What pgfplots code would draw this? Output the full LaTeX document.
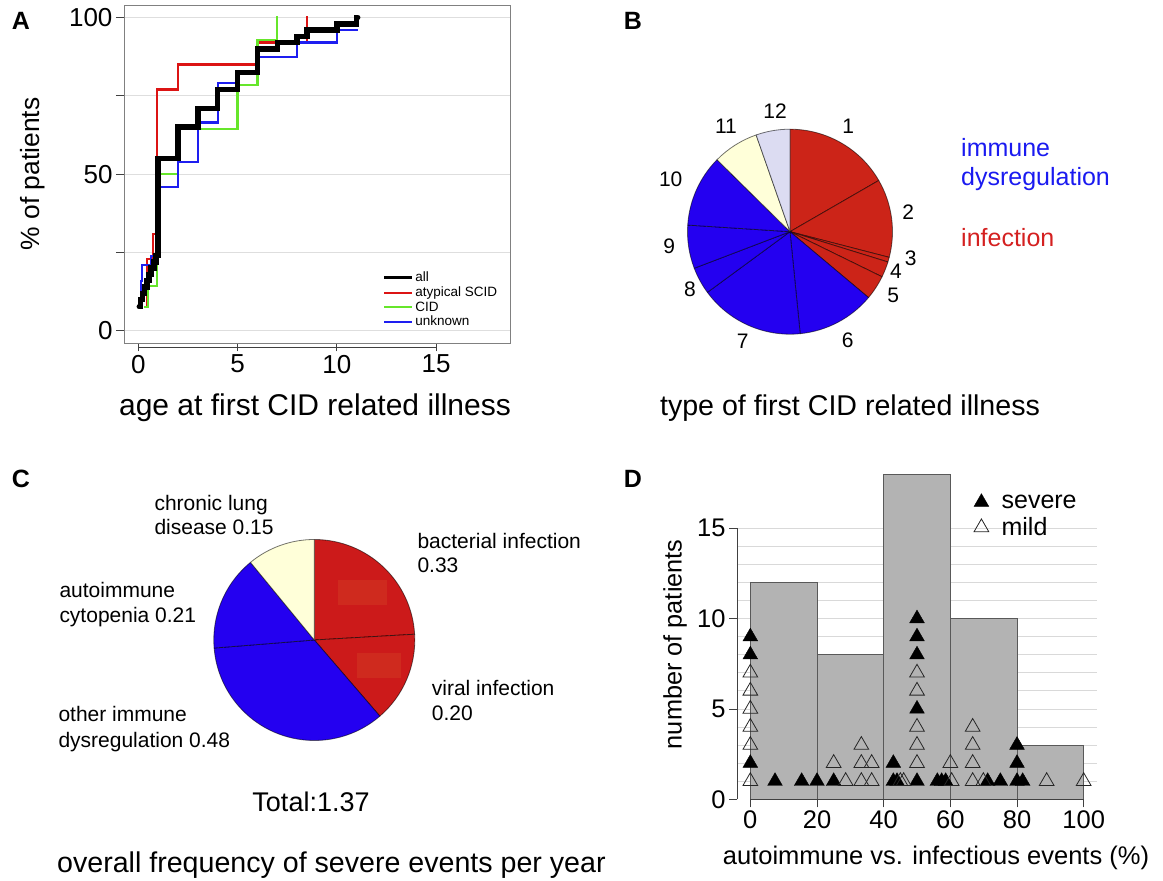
\documentclass[border=0pt]{standalone}
\usepackage{fontspec}
\setmainfont{Liberation Sans}
\usepackage{pgfplots}
\pgfplotsset{compat=1.18}
\newcommand{\fs}[1]{\fontsize{#1}{#1}\selectfont}
\definecolor{Ared}{HTML}{DC1414}
\definecolor{Agreen}{HTML}{66E62A}
\definecolor{Ablue}{HTML}{1E1EF0}
\definecolor{pred}{HTML}{CC2418}
\definecolor{predC}{HTML}{CC1A1A}
\definecolor{pghost}{HTML}{CF2A1E}
\definecolor{pblue}{HTML}{2400F0}
\definecolor{pcream}{HTML}{FFFFD9}
\definecolor{plav}{HTML}{DCDCF2}
\definecolor{barg}{HTML}{B3B3B3}
\definecolor{txtblue}{HTML}{1A1AF0}
\definecolor{txtred}{HTML}{D42020}
% start, end (degrees clockwise from 12 o'clock), radius (pt), fill colour
\newcommand{\pieslice}[4]{%
  \filldraw[fill=#4, draw=black, draw opacity=0.55, line width=0.8pt, line join=round]
  (axis cs:0,0) -- ++({90-(#1)}:#3pt) arc[start angle={90-(#1)}, end angle={90-(#2)}, radius=#3pt] -- cycle;}
\begin{document}
\begin{tikzpicture}
% ---------------- Panel A ----------------
\begin{axis}[
  scale only axis, width=386pt, height=338.4pt,
  at={(124pt,537.6pt)}, anchor=south west,
  xmin=-0.72, xmax=18.72, ymin=-4, ymax=104,
  axis line style={draw=black!50, line width=0.8pt},
  xtick={0,5,10,15}, ytick={0,25,50,75,100}, yticklabels={0,,50,,100},
  tick align=outside, major tick length=8pt, tick pos=left,
  tick style={draw=black!75, line width=0.8pt},
  ymajorgrids, major grid style={draw=black!13, line width=0.8pt},
  tick label style={font=\fs{26}},
  /pgf/number format/assume math mode=true,
  clip=false,
  legend style={at={(rel axis cs:0.6697,0.2154)}, anchor=north west, draw=none, fill=none,
    inner sep=0pt, font=\fs{13.5}, row sep=0.5pt, nodes={inner sep=1.5pt}},
  legend cell align=left,
  legend image code/.code={\draw[#1] (0pt,0pt) -- (28pt,0pt);},
]
\addlegendimage{black, line width=3.2pt}\addlegendentry{all}
\addlegendimage{Ared, line width=2pt}\addlegendentry{atypical SCID}
\addlegendimage{Agreen, line width=2pt}\addlegendentry{CID}
\addlegendimage{Ablue, line width=2pt}\addlegendentry{unknown}
\addplot[const plot, Ared, line width=2.2pt, forget plot] coordinates {
 (0.4,7.7) (0.45,23) (0.75,31) (0.95,77) (2,85) (6,92) (8.5,100) (8.55,100)};
\addplot[const plot, Agreen, line width=2.2pt, forget plot] coordinates {
 (0.3,7.7) (0.47,14.4) (0.95,23.5) (1.0,50) (2,64.4) (5,78.5) (6,92.9) (7,100) (7.05,100)};
\addplot[const plot, Ablue, line width=2.2pt, forget plot] coordinates {
 (0.1,7.7) (0.15,16) (0.18,21) (0.65,24) (1,46) (2,54) (3,66.5) (4,79) (5,83) (6,87.5) (8,92) (10,96) (11.05,96)};
\addplot[const plot, black, line width=5.5pt, line cap=round, forget plot] coordinates {
 (0.05,7.7) (0.12,10) (0.2,12) (0.3,14) (0.45,16) (0.55,18) (0.65,20) (0.8,22) (0.9,24)
 (1,55) (2,65) (3,71) (4,77) (5,82.5) (6,90) (7,92) (8,94) (8.5,96) (10,98) (11,100) (11.05,100)};
\draw[black!75, line width=0.8pt] (axis cs:0,-5.28) -- (axis cs:15,-5.28);
\end{axis}

% ---------------- Panel B (pie) ----------------
\begin{axis}[hide axis, scale only axis, width=240pt, height=240pt,
  xmin=-120, xmax=120, ymin=-120, ymax=120,
  at={(790pt,649.3pt)}, anchor=center, clip=false]
\pieslice{0}{60}{102.5}{pred}
\pieslice{60}{104.5}{102.5}{pred}
\pieslice{104.5}{107.2}{102.5}{pred}
\pieslice{107.2}{116.1}{102.5}{pred}
\pieslice{116.1}{130}{102.5}{pred}
\pieslice{130}{174.3}{102.5}{pblue}
\pieslice{174.3}{233.7}{102.5}{pblue}
\pieslice{233.7}{249.1}{102.5}{pblue}
\pieslice{249.1}{273.7}{102.5}{pblue}
\pieslice{273.7}{314.6}{102.5}{pblue}
\pieslice{314.6}{340.7}{102.5}{pcream}
\pieslice{340.7}{360}{102.5}{plav}
\end{axis}

% ---------------- Panel C (pie) ----------------
\begin{axis}[hide axis, scale only axis, width=240pt, height=240pt,
  xmin=-120, xmax=120, ymin=-120, ymax=120,
  at={(314.3pt,241pt)}, anchor=center, clip=false]
% values: bacterial 0.33, viral 0.20, other immune 0.48, autoimmune cytopenia 0.21, chronic lung 0.15 (total 1.37)
\pieslice{0}{360*0.33/1.37}{100.5}{predC}
\pieslice{360*0.33/1.37}{360*0.53/1.37}{100.5}{predC}
\pieslice{360*0.53/1.37}{360*1.01/1.37}{100.5}{pblue}
\pieslice{360*1.01/1.37}{360*1.22/1.37}{100.5}{pblue}
\pieslice{360*1.22/1.37}{360}{100.5}{pcream}
\fill[pghost] (axis cs:24,35) rectangle (axis cs:72.4,60);
\fill[pghost] (axis cs:43,-38.3) rectangle (axis cs:86.4,-12.7);
\end{axis}

% ---------------- Panel D ----------------
\begin{axis}[
  scale only axis, width=360pt, height=338.3pt,
  at={(737pt,81.7pt)}, anchor=south west,
  xmin=-4, xmax=104, ymin=0, ymax=18.72,
  axis x line*=bottom, axis y line*=left,
  axis line style={draw=none},
  xtick={0,20,40,60,80,100}, ytick={0,5,10,15},
  minor ytick={1,2,...,15}, yminorgrids,
  minor grid style={draw=black!15, line width=0.8pt},
  minor tick length=0pt, major tick length=8pt, tick align=outside,
  tick style={draw=black!75, line width=0.8pt},
  tick label style={font=\fs{25.5}},
  /pgf/number format/assume math mode=true,
  clip=false,
  legend style={at={(rel axis cs:0.6556,0.9069)}, anchor=north west, draw=none, fill=none,
    inner sep=0pt, font=\fs{25}, row sep=4pt, nodes={inner sep=2pt}},
  legend cell align=left,
  legend image code/.code={\draw[#1] plot coordinates {(8pt,0pt)}; \path (0pt,0pt) (26pt,0pt);},
]
\addplot[ybar, bar width=20, bar shift=0pt, fill=barg, draw=black!65, line width=0.8pt, forget plot]
 coordinates {(10,12) (30,8) (50,18) (70,10) (90,3)};
\draw[black!75, line width=0.8pt] (axis cs:0,0) -- (axis cs:100,0);
\draw[black!75, line width=0.8pt] (axis cs:-4,0) -- (axis cs:-4,15);
% severe (filled)
\addplot[only marks, mark=triangle*, mark size=8.5pt, black, mark options={fill=black}] coordinates {
 (0,2) (0,8) (0,9)
 (7.4,1) (15.4,1) (20,1) (25,1) (42.9,1) (44.0,1) (50,1) (56.1,1) (57.4,1) (58.6,1)
 (71.2,1) (75,1) (80,1) (81.7,1)
 (42.9,2) (80,2) (80,3)
 (50,5) (50,8) (50,9) (50,10)};
\addlegendentry{severe}
% mild (open)
\addplot[only marks, mark=triangle, mark size=8.5pt, black!85, mark options={line width=0.8pt}] coordinates {
 (0,1) (0,3) (0,4) (0,5) (0,6) (0,7)
 (28.6,1) (33.3,1) (36.4,1) (45,1) (46,1) (60.4,1) (66.7,1) (69.9,1) (88.9,1) (100,1)
 (25,2) (33.3,2) (36.4,2) (50,2) (60,2) (66.7,2)
 (33.3,3) (50,3) (66.7,3)
 (50,4) (66.7,4)
 (50,6) (50,7)};
\addlegendentry{mild}
\end{axis}

% ---------------- Text ----------------
\node[font=\bfseries\fs{25}, inner sep=0pt] at (21pt,860pt) {A};
\node[font=\bfseries\fs{25}, inner sep=0pt] at (633pt,860pt) {B};
\node[font=\bfseries\fs{25}, inner sep=0pt] at (21pt,402pt) {C};
\node[font=\bfseries\fs{25}, inner sep=0pt] at (633pt,402pt) {D};

\node[font=\fs{26.4}, inner sep=0pt, rotate=90] at (32.5pt,707pt) {\% of patients};
\node[font=\fs{30}, inner sep=0pt, anchor=base] at (315pt,465pt) {age at first CID related illness};
\node[font=\fs{28.6}, inner sep=0pt, anchor=base] at (850pt,465pt) {type of first CID related illness};

\node[font=\fs{25}, inner sep=0pt, anchor=base west, text=txtblue] at (961pt,724.3pt) {immune};
\node[font=\fs{25}, inner sep=0pt, anchor=base west, text=txtblue] at (961pt,695pt) {dysregulation};
\node[font=\fs{25}, inner sep=0pt, anchor=base west, text=txtred] at (961pt,634.3pt) {infection};

\begin{scope}[every node/.style={font=\fs{21}, inner sep=0pt}]
\node at (848.3pt,754.3pt) {1};
\node at (908.3pt,669.3pt) {2};
\node at (910.7pt,622.7pt) {3};
\node at (896pt,609.3pt) {4};
\node at (893.3pt,586pt) {5};
\node at (847.7pt,541pt) {6};
\node at (742.7pt,539.3pt) {7};
\node at (690pt,591.7pt) {8};
\node at (669.3pt,634.3pt) {9};
\node at (670.7pt,701.7pt) {10};
\node at (726pt,755pt) {11};
\node at (775pt,770.3pt) {12};
\end{scope}

\begin{scope}[every node/.style={font=\fs{21}, inner sep=0pt, anchor=base west}]
\node at (154.3pt,370.1pt) {chronic lung};
\node at (154.3pt,346.7pt) {disease 0.15};
\node at (417.3pt,332.7pt) {bacterial infection};
\node at (417.3pt,308.4pt) {0.33};
\node at (59.3pt,283.4pt) {autoimmune};
\node at (59.3pt,258.4pt) {cytopenia 0.21};
\node at (431.7pt,185.1pt) {viral infection};
\node at (431.7pt,160.1pt) {0.20};
\node at (58.3pt,159.4pt) {other immune};
\node at (58.3pt,133.4pt) {dysregulation 0.48};
\end{scope}
\node[font=\fs{27}, inner sep=0pt] at (311pt,79.3pt) {Total:1.37};
\node[font=\fs{28.6}, inner sep=0pt, anchor=base west] at (57pt,8.3pt) {overall frequency of severe events per year};

\node[font=\fs{25.3}, inner sep=0pt, rotate=90] at (675pt,236.7pt) {number of patients};
\node[font=\fs{25.5}, inner sep=0pt] at (936pt,23.5pt) {autoimmune vs. infectious events (\%)};

\pgfresetboundingbox
\path[use as bounding box] (0pt,0pt) rectangle (1163pt,881pt);
\end{tikzpicture}
\end{document}
